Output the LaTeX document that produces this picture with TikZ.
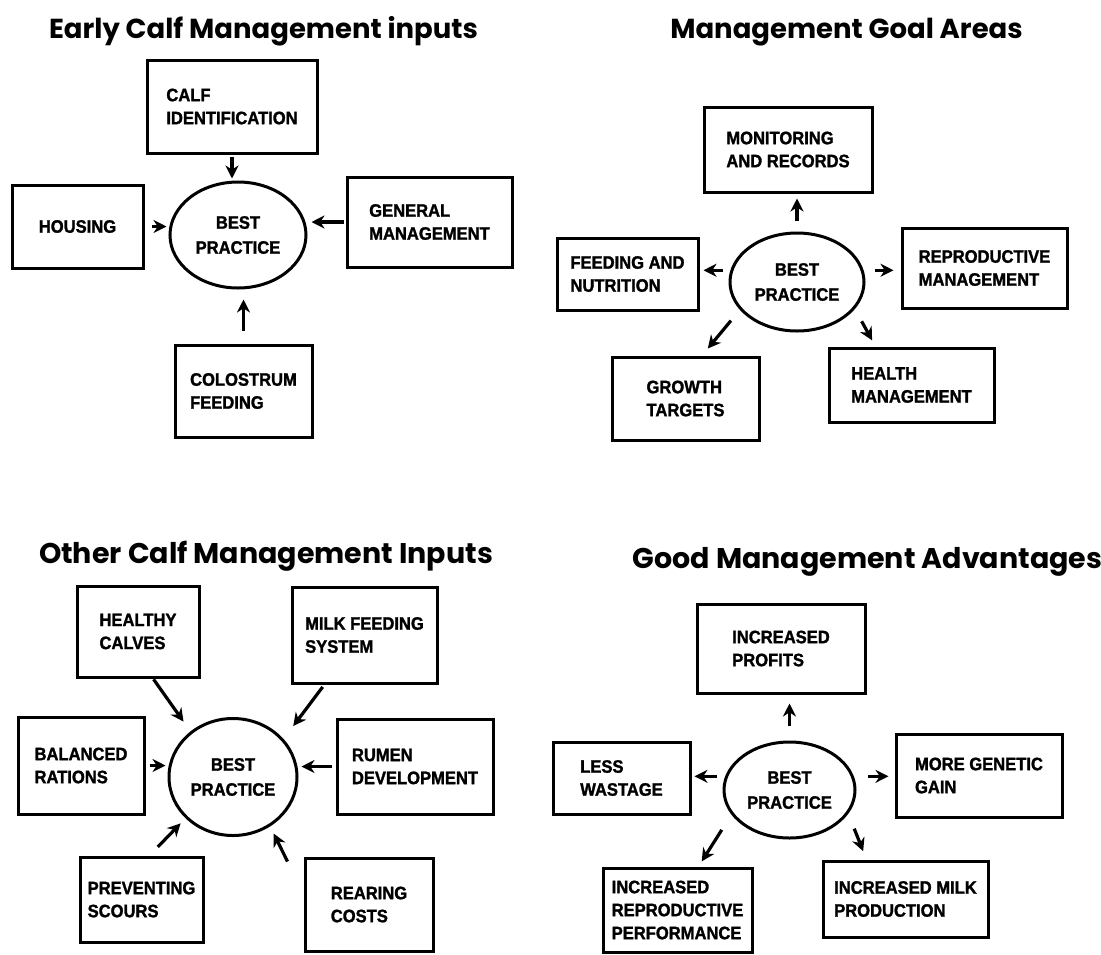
\documentclass[tikz,border=0pt]{standalone}
\usepackage{fontspec}
\newfontfamily\headfont{Poppins}
\newfontfamily\boxfont[FakeStretch=0.92,
  BoldFeatures={FakeBold=1.5}]{Liberation Sans}
\usepackage{tikz}
\usetikzlibrary{
  shapes.geometric,
  arrows.meta,
  positioning
}

\begin{document}
\begin{tikzpicture}[
  x=1pt, y=-1pt,
  box/.style={
    draw, line width=3pt,
    align=left, inner xsep=2pt,
    font=\boxfont\bfseries\fontsize{18}{23}\selectfont},
  bubble/.style={
    draw, ellipse, line width=3pt,
    inner sep=0pt, align=center,
    font=\boxfont\bfseries\fontsize{18}{25}\selectfont},
  heading/.style={
    anchor=base, inner sep=0pt,
    font=\headfont\bfseries\fontsize{27.5}{32}\selectfont},
  arrow/.style={
    -{Stealth[length=13pt, width=13pt]},
    line width=3.2pt}
]

\useasboundingbox[fill=white] (0,0) rectangle (1101,954);

\node[heading] (early) at (263.5,38)
  {Early Calf Management inputs};
\node[bubble, minimum width=136pt,
  minimum height=106pt] (best1) at (238,235)
  {BEST\\PRACTICE};
\node[box, minimum width=170pt,
  minimum height=93pt] (ident) at (232,106.5)
  {CALF\\IDENTIFICATION};
\node[box, minimum width=131pt,
  minimum height=83pt] (housing) at (77.5,226.5)
  {HOUSING};
\node[box, minimum width=165pt,
  minimum height=90pt] (general) at (429.5,222)
  {GENERAL\\MANAGEMENT};
\node[box, minimum width=137pt,
  minimum height=92pt] (colostrum) at (243.5,391)
  {COLOSTRUM\\FEEDING};

\draw[arrow, shorten <=2pt, shorten >=2pt]
  (ident.south) -- (ident.south |- best1.north);
\draw[arrow, shorten <=7pt, shorten >=2pt]
  (housing.east) -- (housing.east -| best1.west);
\draw[arrow, shorten <=2pt, shorten >=4pt]
  (general.west) -- (general.west -| best1.east);
\draw[arrow, shorten <=13pt, shorten >=10pt]
  (colostrum.north) -- (colostrum.north |- best1.south);

\node[heading] (goals) at (846.5,38)
  {Management Goal Areas};
\node[bubble, minimum width=134pt,
  minimum height=98pt] (best2) at (797,282)
  {BEST\\PRACTICE};
\node[box, minimum width=168pt,
  minimum height=85pt] (records) at (788,149.5)
  {MONITORING\\AND RECORDS};
\node[box, minimum width=141pt,
  minimum height=72pt] (nutrition) at (627.5,274)
  {FEEDING AND\\NUTRITION};
\node[box, minimum width=165pt,
  minimum height=80pt] (reproduction) at (984.5,268)
  {REPRODUCTIVE\\MANAGEMENT};
\node[box, minimum width=147pt,
  minimum height=83pt] (growth) at (685.5,398.5)
  {GROWTH\\TARGETS};
\node[box, minimum width=165pt,
  minimum height=74pt] (health) at (911.5,385)
  {HEALTH\\MANAGEMENT};

\draw[arrow, shorten <=11pt, shorten >=5pt]
  (best2.north) -- (best2.north |- records.south);
\draw[arrow, shorten <=7pt, shorten >=4pt]
  (best2.170) -- (best2.170 -| nutrition.east);
\draw[arrow, shorten <=11pt, shorten >=7pt]
  (best2.10) -- (best2.10 -| reproduction.west);
\draw[arrow, shorten <=14pt, shorten >=9pt]
  (best2.206) -- ([xshift=16.5pt]growth.north);
\draw[arrow, shorten <=14pt, shorten >=7pt]
  (best2.335) -- ([xshift=-36pt]health.north);

\node[heading, font=\headfont\bfseries\fontsize{28.5}{32}\selectfont]
  (other) at (266,563)
  {Other Calf Management Inputs};
\node[bubble, minimum width=128pt,
  minimum height=117pt] (best3) at (233,777)
  {BEST\\PRACTICE};
\node[box, minimum width=122pt,
  minimum height=91pt] (calves) at (138,631.5)
  {HEALTHY\\CALVES};
\node[box, minimum width=145pt,
  minimum height=96pt] (milk) at (364.5,635)
  {MILK FEEDING\\SYSTEM};
\node[box, minimum width=126pt,
  minimum height=97pt] (rations) at (81,765.5)
  {BALANCED\\RATIONS};
\node[box, minimum width=156pt,
  minimum height=95pt] (rumen) at (415,766.5)
  {RUMEN\\DEVELOPMENT};
\node[box, minimum width=123pt,
  minimum height=85pt] (scours) at (141.5,899.5)
  {PREVENTING\\SCOURS};
\node[box, minimum width=128pt,
  minimum height=93pt] (costs) at (369,904.5)
  {REARING\\COSTS};

\draw[arrow, shorten <=1pt, shorten >=12pt]
  ([xshift=15pt]calves.south) -- (best3.133);
\draw[arrow, shorten <=3pt, shorten >=16pt]
  ([xshift=-40pt]milk.south) -- (best3.37);
\draw[arrow, shorten <=4pt, shorten >=2pt]
  (rations.east) -- (rations.east -| best3.west);
\draw[arrow, shorten <=4pt, shorten >=3pt]
  (rumen.west) -- (rumen.west -| best3.east);
\draw[arrow, shorten <=12pt, shorten >=7pt]
  ([xshift=8pt]scours.north) -- (best3.221);
\draw[arrow, shorten >=8pt]
  ([xshift=-16pt, yshift=-5pt]costs.north west) -- (best3.307);

\node[heading, font=\headfont\bfseries\fontsize{28.5}{32}\selectfont]
  (advantages) at (867.5,568)
  {Good Management Advantages};
\node[bubble, minimum width=131pt,
  minimum height=96pt] (best4) at (789.5,790)
  {BEST\\PRACTICE};
\node[box, minimum width=168pt,
  minimum height=89pt] (profits) at (781,648.5)
  {INCREASED\\PROFITS};
\node[box, minimum width=137pt,
  minimum height=72pt] (wastage) at (621.5,778)
  {LESS\\WASTAGE};
\node[box, minimum width=166pt,
  minimum height=83pt] (genetic) at (979,775.5)
  {MORE GENETIC\\GAIN};
\node[box, minimum width=149pt,
  minimum height=84pt] (reproperf) at (677.5,910)
  {INCREASED\\REPRODUCTIVE\\PERFORMANCE};
\node[box, minimum width=165pt,
  minimum height=76pt] (milkprod) at (905.5,899)
  {INCREASED MILK\\PRODUCTION};

\draw[arrow, shorten <=15pt, shorten >=9pt]
  (best4.north) -- (best4.north |- profits.south);
\draw[arrow, shorten <=8pt, shorten >=3pt]
  (best4.168) -- (best4.168 -| wastage.east);
\draw[arrow, shorten <=14pt, shorten >=6pt]
  (best4.12) -- (best4.12 -| genetic.west);
\draw[arrow, shorten <=18pt, shorten >=6pt]
  (best4.203) -- ([xshift=21pt]reproperf.north);
\draw[arrow, shorten <=16pt, shorten >=9pt]
  (best4.338) -- ([xshift=-39pt]milkprod.north);

\end{tikzpicture}
\end{document}
